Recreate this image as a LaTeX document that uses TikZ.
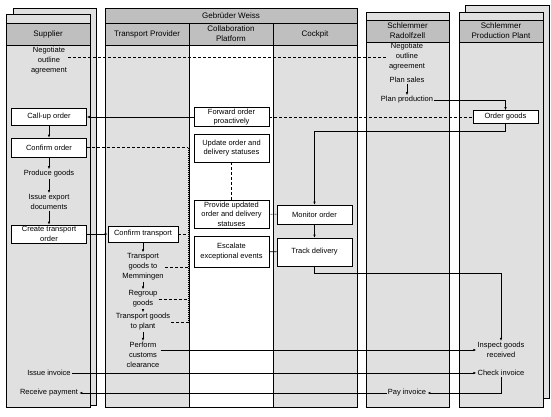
\documentclass[tikz,border=0pt]{standalone}
\usepackage{fontspec}
\setmainfont{Liberation Sans}
\usetikzlibrary{arrows.meta}
\definecolor{lanegray}{gray}{0.88}
\definecolor{headgray}{gray}{0.75}

\begin{document}
\begin{tikzpicture}[x=1pt,y=-1pt,line width=0.6pt,
  every node/.style={font=\fontsize{7.5}{10}\selectfont, align=center, inner sep=1pt},
  hd/.style={font=\fontsize{8}{10}\selectfont},
  box/.style={draw, fill=white, minimum width=75pt, font=\fontsize{7.5}{9.5}\selectfont},
  lane/.style={draw, fill=lanegray},
  head/.style={draw, fill=headgray},
  arr/.style={-{Latex[length=3pt,width=2.5pt]}},
  dsh/.style={dash pattern=on 3pt off 2pt},
  dot/.style={dash pattern=on 1pt off 1pt}]
\useasboundingbox (0,0) rectangle (551,416);

\draw[lane] (13,8) rectangle (96,405);
\draw[lane] (6,14) rectangle (90,407);
\draw[head] (6,23) rectangle (90,45);
\draw[lane] (105,8) rectangle (357,407);
\draw[fill=white] (189,45) rectangle (273,407);
\draw[head] (105,8) rectangle (357,23);
\draw[head] (105,23) rectangle (189,45);
\draw[head] (189,23) rectangle (273,45);
\draw[head] (273,23) rectangle (357,45);
\draw[lane] (366,12) rectangle (449,407);
\draw[head] (366,20) rectangle (449,42);
\draw[lane] (465,5) rectangle (549,398);
\draw[lane] (459,12) rectangle (543,407);
\draw[head] (459,20) rectangle (543,42);

\node[hd] (H0) at (48,34) {Supplier};
\node[hd] (H1) at (231,15.5) {Gebrüder Weiss};
\node[hd] (H2) at (147,34) {Transport Provider};
\node[hd] (H3) at (231,34) {Collaboration\\Platform};
\node[hd] (H4) at (315,34) {Cockpit};
\node[hd] (H5) at (407.5,31) {Schlemmer\\Radolfzell};
\node[hd] (H6) at (501,31) {Schlemmer\\Production Plant};

\node (S0) at (49,61) {Negotiate\\outline\\agreement};
\node[box,minimum height=17pt] (S1) at (49,117) {Call-up order};
\node[box,minimum height=19pt] (S2) at (49,147.5) {Confirm order};
\node (S3) at (49,174) {Produce goods};
\node (S4) at (49,202) {Issue export\\documents};
\node[box,minimum height=18pt] (S5) at (49,234) {Create transport\\order};
\node (S6) at (49,373) {Issue invoice};
\node (S7) at (49,393) {Receive payment};

\node[box,minimum width=70pt,minimum height=16pt] (T1) at (143,234) {Confirm transport};
\node (T2) at (143,267) {Transport\\goods to\\Memmingen};
\node (T3) at (143,299) {Regroup\\goods};
\node (T4) at (143,322) {Transport goods\\to plant};
\node (T5) at (143,355) {Perform\\customs\\clearance};

\node[box,minimum height=19pt] (C1) at (231.5,117) {Forward order\\proactively};
\node[box,minimum height=28pt] (C2) at (231.5,148) {Update order and\\delivery statuses};
\node[box,minimum height=28pt] (C3) at (231.5,214) {Provide updated\\order and delivery\\statuses};
\node[box,minimum height=31pt] (C4) at (231.5,251.5) {Escalate\\exceptional events};

\node[box,minimum height=19pt] (K1) at (314.5,214.5) {Monitor order};
\node[box,minimum height=28pt] (K2) at (314.5,252) {Track delivery};

\node (R0) at (407,57) {Negotiate\\outline\\agreement};
\node (R1) at (407,80) {Plan sales};
\node (R2) at (407,100) {Plan production};
\node (R3) at (407,393) {Pay invoice};

\node[box,minimum width=65pt,minimum height=13pt] (P1) at (505.5,117) {Order goods};
\node (P2) at (501,350) {Inspect goods\\received};
\node (P3) at (501,373) {Check invoice};

\coordinate (B0) at (188,147.5);
\coordinate (B1) at (188,322);

\path[arr]
(S1) edge (S2)
(S2) edge (S3)
(S3) edge (S4)
(S4) edge (S5)
(S5) edge (T1)
(T1) edge (T2)
(T2) edge (T3)
(T3) edge (T4)
(T4) edge (T5)
(C1) edge (S1)
(R1) edge (R2)
(K1) edge (K2)
(S6) edge (P3)
(R3) edge (S7);
\draw[arr] (R2) -| (P1);
\draw[arr] (P1.south) -- ++(0,7) -| (K1.north);
\draw[arr] (K2.south) -- ++(0,7) -| (P2.north);
\draw[arr] (P3) |- (R3);
\draw[arr] (T5.east |- P2.west) -- (P2.west);
\draw (C4) -- (K2);

\draw[dsh] (S0.east |- R0.west) -- (R0.west);
\draw[dsh] (C1) -- (P1);
\draw[dsh] (S2) -- (B0);
\draw[dot] (B0) -- (B1);
\draw[dsh] (T1) -- (T1 -| B0);
\draw[dsh] (T2) -- (T2 -| B0);
\draw[dsh] (T3) -- (T3 -| B0);
\draw[dsh] (T4) -- (T4 -| B0);
\draw[dsh] (C2) -- (C3);
\draw[dot] (C3) -- (K1);
\end{tikzpicture}
\end{document}
